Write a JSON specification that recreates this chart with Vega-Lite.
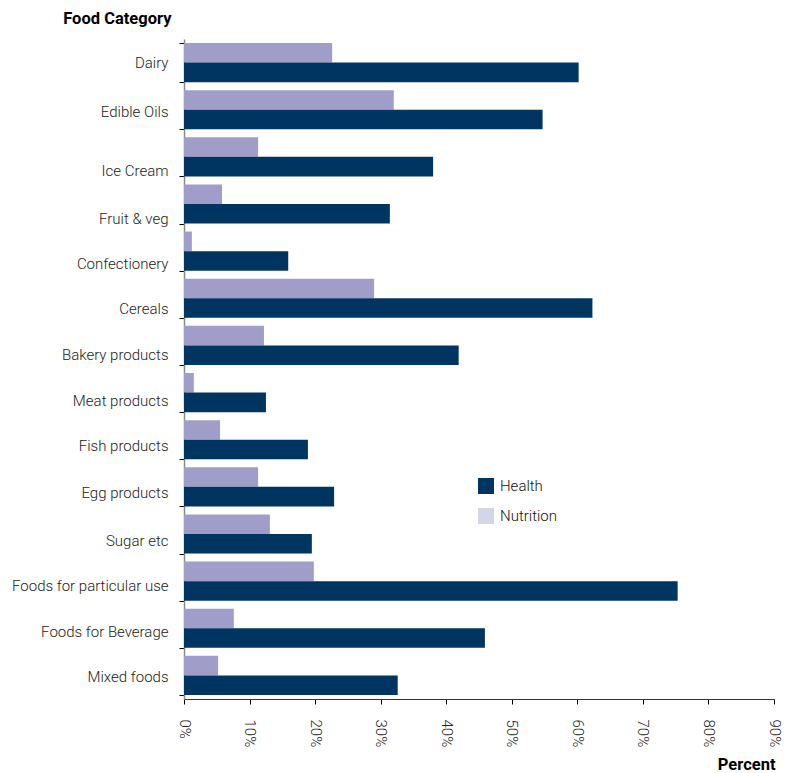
{
  "$schema": "https://vega.github.io/schema/vega-lite/v6.json",
  "width": 590,
  "height": 660,
  "autosize": {"type": "none"},
  "padding": {"left": 184, "top": 39, "right": 12, "bottom": 74},
  "config": {
    "view": {"stroke": null},
    "font": "Roboto, sans-serif"
  },
  "data": {
    "values": [
      {"category": "Dairy", "series": "Nutrition", "value": 0.226},
      {"category": "Dairy", "series": "Health", "value": 0.602},
      {"category": "Edible Oils", "series": "Nutrition", "value": 0.32},
      {"category": "Edible Oils", "series": "Health", "value": 0.547},
      {"category": "Ice Cream", "series": "Nutrition", "value": 0.113},
      {"category": "Ice Cream", "series": "Health", "value": 0.38},
      {"category": "Fruit & veg", "series": "Nutrition", "value": 0.058},
      {"category": "Fruit & veg", "series": "Health", "value": 0.314},
      {"category": "Confectionery", "series": "Nutrition", "value": 0.012},
      {"category": "Confectionery", "series": "Health", "value": 0.159},
      {"category": "Cereals", "series": "Nutrition", "value": 0.29},
      {"category": "Cereals", "series": "Health", "value": 0.623},
      {"category": "Bakery products", "series": "Nutrition", "value": 0.122},
      {"category": "Bakery products", "series": "Health", "value": 0.419},
      {"category": "Meat products", "series": "Nutrition", "value": 0.015},
      {"category": "Meat products", "series": "Health", "value": 0.125},
      {"category": "Fish products", "series": "Nutrition", "value": 0.055},
      {"category": "Fish products", "series": "Health", "value": 0.189},
      {"category": "Egg products", "series": "Nutrition", "value": 0.113},
      {"category": "Egg products", "series": "Health", "value": 0.229},
      {"category": "Sugar etc", "series": "Nutrition", "value": 0.131},
      {"category": "Sugar etc", "series": "Health", "value": 0.195},
      {"category": "Foods for particular use", "series": "Nutrition", "value": 0.198},
      {"category": "Foods for particular use", "series": "Health", "value": 0.753},
      {"category": "Foods for Beverage", "series": "Nutrition", "value": 0.076},
      {"category": "Foods for Beverage", "series": "Health", "value": 0.459},
      {"category": "Mixed foods", "series": "Nutrition", "value": 0.052},
      {"category": "Mixed foods", "series": "Health", "value": 0.326}
    ]
  },
  "encoding": {
    "y": {
      "field": "category",
      "type": "nominal",
      "sort": ["Dairy", "Edible Oils", "Ice Cream", "Fruit & veg", "Confectionery", "Cereals", "Bakery products", "Meat products", "Fish products", "Egg products", "Sugar etc", "Foods for particular use", "Foods for Beverage", "Mixed foods"],
      "scale": {"paddingInner": 0.17, "paddingOuter": 0.085},
      "axis": {
        "title": "Food Category",
        "titleAngle": 0,
        "titleAlign": "right",
        "titleBaseline": "alphabetic",
        "titleX": -13,
        "titleY": -16,
        "titleFontSize": 16.5,
        "titleFontWeight": "bold",
        "titleColor": "#000000",
        "labelFontSize": 15,
        "labelFontWeight": 300,
        "labelColor": "#222222",
        "labelPadding": 11,
        "labelLimit": 300,
        "labelOffset": {"expr": "[0,2,14,14,12,10,9,8,6,6,6,4,3,1][indexof(['Dairy','Edible Oils','Ice Cream','Fruit & veg','Confectionery','Cereals','Bakery products','Meat products','Fish products','Egg products','Sugar etc','Foods for particular use','Foods for Beverage','Mixed foods'], datum.value)]"},
        "tickBand": "extent",
        "tickSize": 5,
        "tickColor": "#000000",
        "domainColor": "#8a8a8a",
        "domainWidth": 1.5
      }
    },
    "x": {
      "field": "value",
      "type": "quantitative",
      "scale": {"domain": [0, 0.9], "nice": false},
      "axis": {
        "title": "Percent",
        "values": [0, 0.1, 0.2, 0.3, 0.4, 0.5, 0.6, 0.7, 0.8, 0.9],
        "format": ".0%",
        "grid": false,
        "labelAngle": 90,
        "labelAlign": "left",
        "labelBaseline": "middle",
        "labelFontSize": 15,
        "labelFontWeight": 300,
        "labelColor": "#222222",
        "labelPadding": 15,
        "tickSize": 5,
        "tickColor": "#000000",
        "domainColor": "#333333",
        "titleAlign": "right",
        "titleBaseline": "alphabetic",
        "titleX": 591,
        "titleY": 70,
        "titleFontSize": 16.5,
        "titleFontWeight": "bold",
        "titleColor": "#000000"
      }
    }
  },
  "layer": [
    {
      "mark": {"type": "bar"},
      "encoding": {
        "yOffset": {
          "field": "series",
          "type": "nominal",
          "sort": ["Nutrition", "Health"],
          "scale": {"paddingInner": 0, "paddingOuter": 0}
        },
        "color": {
          "field": "series",
          "type": "nominal",
          "scale": {"domain": ["Health", "Nutrition"], "range": ["#003461", "#a09ec8"]},
          "legend": null
        }
      }
    },
    {
      "mark": {"type": "point", "shape": "square", "filled": true, "size": 0},
      "encoding": {
        "color": {
          "field": "series",
          "type": "nominal",
          "scale": {"domain": ["Health", "Nutrition"], "range": ["#003461", "#d5d5e9"]},
          "legend": {
            "title": null,
            "orient": "none",
            "legendX": 294,
            "legendY": 439,
            "symbolType": "square",
            "symbolSize": 256,
            "symbolStrokeWidth": 0,
            "symbolOpacity": 1,
            "labelFontSize": 15,
            "labelFontWeight": 300,
            "labelColor": "#111111",
            "labelOffset": 6,
            "rowPadding": 14
          }
        }
      }
    }
  ],
  "resolve": {"scale": {"color": "independent"}}
}
